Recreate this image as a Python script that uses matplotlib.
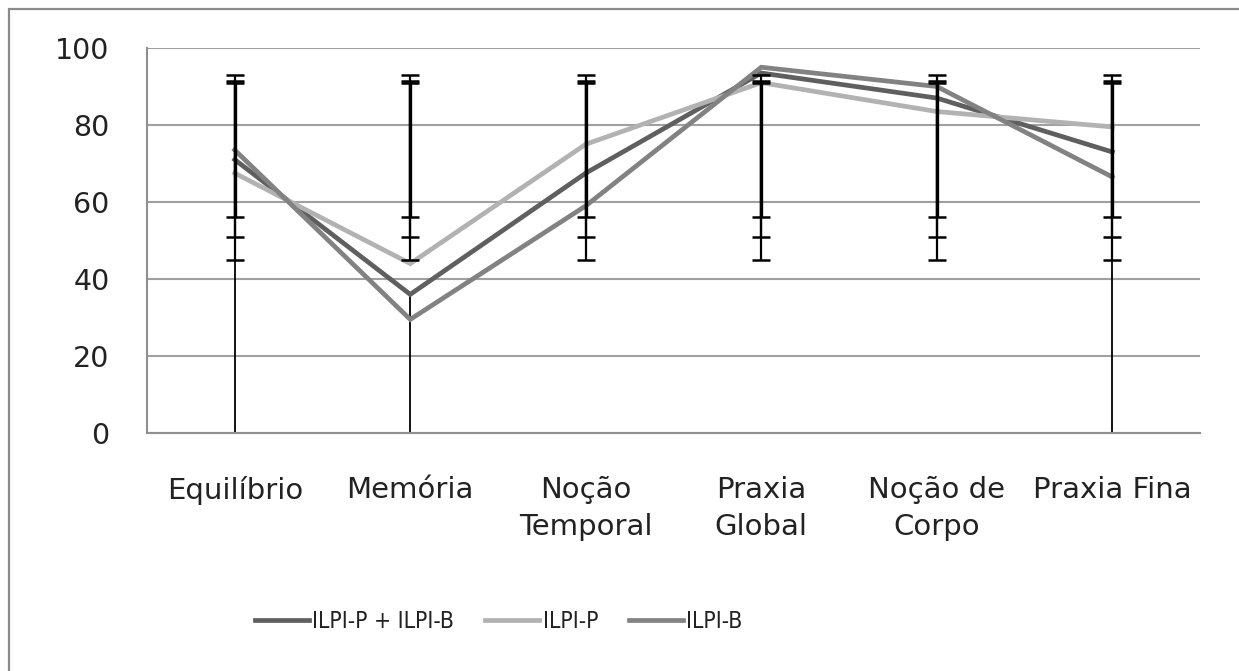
import numpy as np
import matplotlib
matplotlib.use("Agg")
import matplotlib.pyplot as plt
from matplotlib.patches import Rectangle

plt.rcParams['font.family'] = ['DejaVu Sans']

categories = ["Equilíbrio", "Memória", "Noção\nTemporal", "Praxia\nGlobal",
              "Noção de\nCorpo", "Praxia Fina"]
series_names = ["ILPI-P + ILPI-B", "ILPI-P", "ILPI-B"]

ilpi_pb = [71, 36, 67.5, 93.5, 87, 73]
ilpi_p = [67.5, 44, 75, 91, 83.5, 79.5]
ilpi_b = [73.5, 29.5, 59, 95, 90, 66.5]

# error bar ends (same at every category)
upper_pb = [93, 93, 93, 93, 93, 93]
lower_pb = [45, 45, 45, 45, 45, 45]
upper_p = [91.5, 91.5, 91.5, 91.5, 91.5, 91.5]
lower_p = [56, 56, 56, 56, 56, 56]
upper_b = [90.8, 90.8, 90.8, 90.8, 90.8, 90.8]
lower_b = [51, 51, 51, 51, 51, 51]
# whiskers that run down past the axis at some categories
lower_extra = [-5, -5, np.nan, np.nan, np.nan, -5]

colors = ["#5f5f5f", "#b2b2b2", "#828282"]

fig = plt.figure(figsize=(12.39, 6.71), dpi=100)
ax = fig.add_axes([147 / 1239, 1 - 433 / 671, (1200 - 147) / 1239, (433 - 48) / 671])

x = np.arange(len(categories))
values = [ilpi_pb, ilpi_p, ilpi_b]
uppers = [upper_pb, upper_p, upper_b]
lowers = [lower_pb, lower_p, lower_b]

for vals, col, name in zip(values, colors, series_names):
    ax.plot(x, vals, color=col, lw=3.4, label=name, zorder=3,
            solid_joinstyle="miter")

for up, lo, w in zip(uppers, lowers, [1.6, 2.4, 1.6]):
    lo = np.array(lo)
    span = np.array(up) - lo
    ax.errorbar(x, lo, yerr=[np.zeros_like(span), span], fmt="none",
                ecolor="black", elinewidth=w, capsize=6.5, capthick=1.8,
                zorder=4)

ax.vlines(x, lower_extra, ilpi_pb, color="black", lw=1.3, zorder=2)

ax.set_xlim(-0.5, len(categories) - 0.5)
ax.set_ylim(0, 100)
ax.set_yticks([0, 20, 40, 60, 80, 100])
ax.set_xticks(x)
ax.set_xticklabels(categories, fontsize=21, color="#222222", linespacing=1.4)
ax.tick_params(axis="y", labelsize=20.5, labelcolor="#222222", length=0, pad=27)
ax.tick_params(axis="x", length=0, pad=31)
ax.grid(axis="y", color="#a0a0a0", lw=1.5)
ax.set_axisbelow(True)
for s in ["top", "right"]:
    ax.spines[s].set_visible(False)
for s in ["left", "bottom"]:
    ax.spines[s].set_color("#909090")
    ax.spines[s].set_linewidth(1.5)

leg = ax.legend(loc="center", bbox_to_anchor=(499 / 1239, 1 - 622 / 671),
                bbox_transform=fig.transFigure, ncol=3, frameon=False,
                prop={"family": "DejaVu Sans", "stretch": "condensed", "size": 16.5},
                handlelength=2.35, handletextpad=0.15, columnspacing=1.35)
for t in leg.get_texts():
    t.set_color("#222222")

fig.patches.append(Rectangle((9 / 1239, -0.1), 2, 1 - 9 / 671 + 0.1,
                             transform=fig.transFigure, fill=False,
                             edgecolor="#8a8a8a", lw=1.6))

fig.savefig("out.png", dpi=100)
